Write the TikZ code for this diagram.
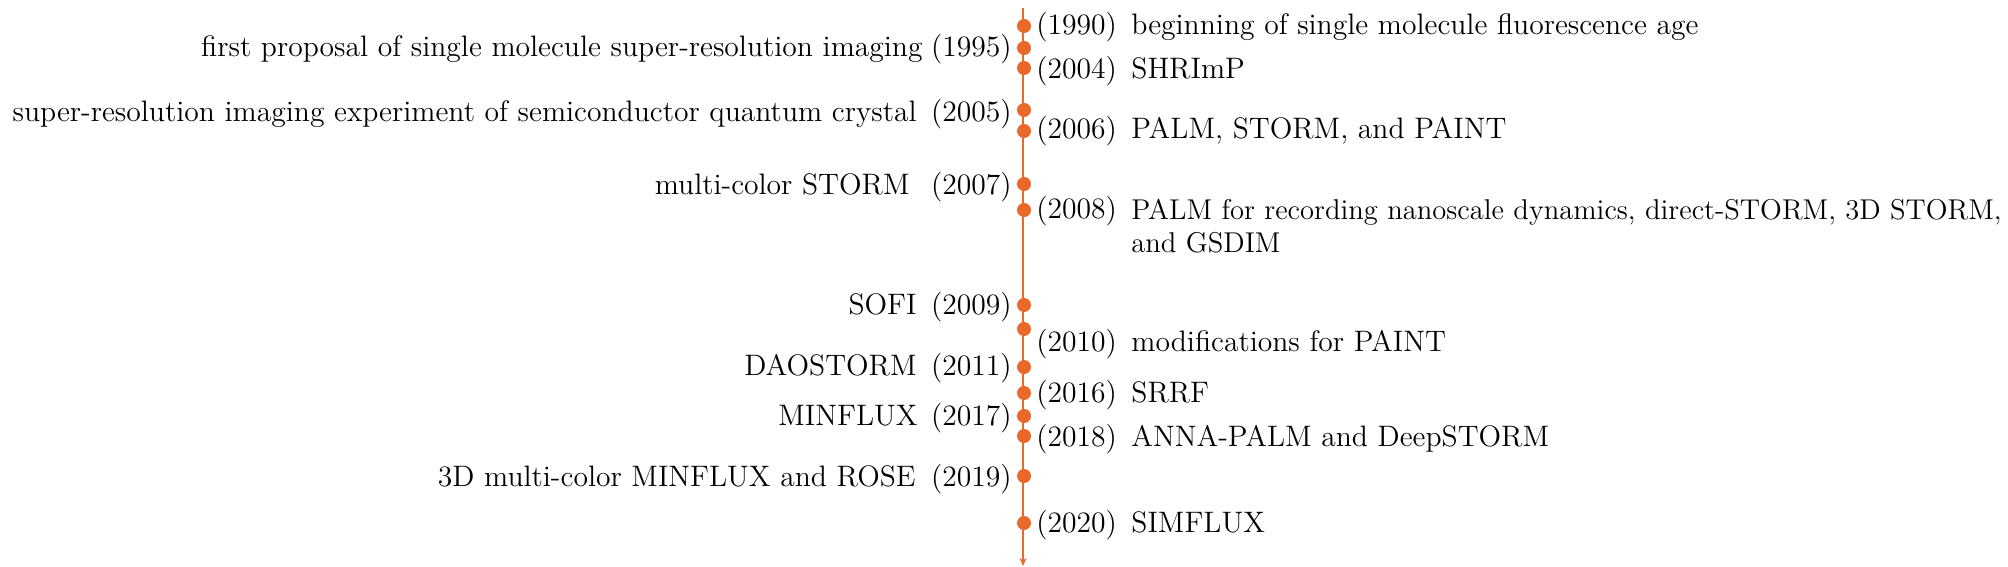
\documentclass[tikz,border=0pt]{standalone}
\usetikzlibrary{arrows.meta}
\definecolor{tlorange}{RGB}{233,104,42}
\begin{document}
\begin{tikzpicture}[x=0.5pt,y=-0.5pt,
  font=\fontsize{14.8}{17}\selectfont,
  dot/.style={circle, fill=tlorange, inner sep=0pt, minimum size=7pt},
  ryear/.style={anchor=base west, inner sep=0pt},
  rdesc/.style={anchor=base west, inner sep=0pt},
  lyear/.style={anchor=base east, inner sep=0pt},
  ldesc/.style={anchor=base east, inner sep=0pt},
  axis/.style={draw=tlorange, line width=1pt, -{Stealth[length=4pt,width=3.5pt]}}]
\useasboundingbox (0,0) rectangle (2008,567);
\coordinate (top) at (1023,8);
\coordinate (bot) at (1023,566);
\draw[axis] (top) -- (bot);
% dots
\node[dot] (d1990) at (1024,26) {};
\node[dot] (d1995) at (1024,48) {};
\node[dot] (d2004) at (1024,68) {};
\node[dot] (d2005) at (1024,110) {};
\node[dot] (d2006) at (1024,131) {};
\node[dot] (d2007) at (1024,184) {};
\node[dot] (d2008) at (1024,210) {};
\node[dot] (d2009) at (1024,305) {};
\node[dot] (d2010) at (1024,329) {};
\node[dot] (d2011) at (1024,367) {};
\node[dot] (d2016) at (1024,393) {};
\node[dot] (d2017) at (1024,416) {};
\node[dot] (d2018) at (1024,436) {};
\node[dot] (d2019) at (1024,476) {};
\node[dot] (d2020) at (1024,523) {};
% right side
\node[ryear] (y1990) at (1036,35) {(1990)};
\node[rdesc] (t1990) at (1131,35) {beginning of single molecule fluorescence age};
\node[ryear] (y2004) at (1036,79) {(2004)};
\node[rdesc] (t2004) at (1131,79) {SHRImP};
\node[ryear] (y2006) at (1036,139) {(2006)};
\node[rdesc] (t2006) at (1131,139) {PALM, STORM, and PAINT};
\node[ryear] (y2008) at (1036,219) {(2008)};
\node[anchor=north west, inner sep=0pt, align=left, font=\fontsize{14.3}{16.5}\selectfont] (t2008) at (1131,199) {PALM for recording nanoscale dynamics, direct-STORM, 3D STORM,\\and GSDIM};
\node[ryear] (y2010) at (1036,351) {(2010)};
\node[rdesc] (t2010) at (1131,351) {modifications for PAINT};
\node[ryear] (y2016) at (1036,402) {(2016)};
\node[rdesc] (t2016) at (1131,402) {SRRF};
\node[ryear] (y2018) at (1036,446) {(2018)};
\node[rdesc] (t2018) at (1131,446) {ANNA-PALM and DeepSTORM};
\node[ryear] (y2020) at (1036,532) {(2020)};
\node[rdesc] (t2020) at (1131,532) {SIMFLUX};
% left side
\node[lyear] (y1995) at (1012,57) {(1995)};
\node[ldesc] (t1995) at (923,57) {first proposal of single molecule super-resolution imaging};
\node[lyear] (y2005) at (1012,122) {(2005)};
\node[ldesc] (t2005) at (917,122) {super-resolution imaging experiment of semiconductor quantum crystal};
\node[lyear] (y2007) at (1012,194) {(2007)};
\node[ldesc] (t2007) at (910,194) {multi-color STORM};
\node[lyear] (y2009) at (1012,314) {(2009)};
\node[ldesc] (t2009) at (917,314) {SOFI};
\node[lyear] (y2011) at (1012,375) {(2011)};
\node[ldesc] (t2011) at (917,375) {DAOSTORM};
\node[lyear] (y2017) at (1012,425) {(2017)};
\node[ldesc] (t2017) at (918,425) {MINFLUX};
\node[lyear] (y2019) at (1012,486) {(2019)};
\node[ldesc] (t2019) at (916,486) {3D multi-color MINFLUX and ROSE};
\end{tikzpicture}
\end{document}
